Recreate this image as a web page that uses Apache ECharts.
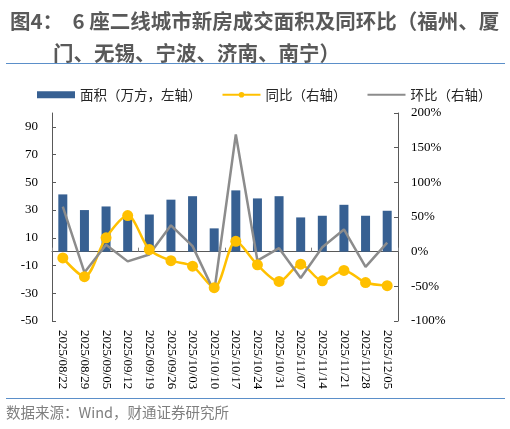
<!DOCTYPE html>
<html>
<head>
<meta charset="utf-8">
<script src="https://cdn.jsdelivr.net/npm/echarts@6/dist/echarts.min.js"></script>
<style>
  html, body { margin: 0; padding: 0; background: #fff; }
  #main { width: 510px; height: 429px; }
</style>
</head>
<body>
<div id="main"></div>
<script>
// 周度日期
var dates = ['2025/08/22', '2025/08/29', '2025/09/05', '2025/09/12', '2025/09/19', '2025/09/26',
  '2025/10/03', '2025/10/10', '2025/10/17', '2025/10/24', '2025/10/31', '2025/11/07',
  '2025/11/14', '2025/11/21', '2025/11/28', '2025/12/05']
// 面积（万方）
var area = [41.3, 30, 32.6, 25, 26.8, 37.5, 40, 16.8, 44.2, 38.4, 40, 24.7, 25.9, 33.8, 25.9, 29.5]
// 同比（%）
var yoy = [-9, -36, 20, 52, 3, -13, -21, -52, 15, -19, -43, -18, -42, -27, -44.5, -49]
// 环比（%）
var mom = [65, -30, 10, -14, -4, 38, 8, -58, 169, -13, 5, -38, 6.5, 32, -22, 13]

var myChart = echarts.init(document.getElementById('main'))
var serif = 'Liberation Serif'
var cjk = 'Noto Sans CJK SC'
var option = {
  animation: false,
  title: [
    {
      text: '图4：  6 座二线城市新房成交面积及同环比（福州、厦',
      left: 5,
      top: 6,
      textStyle: { fontFamily: cjk, fontSize: 20.5, fontWeight: 'bold', color: '#595959' }
    },
    {
      text: '门、无锡、宁波、济南、南宁）',
      left: 48,
      top: 38,
      textStyle: { fontFamily: cjk, fontSize: 20.5, fontWeight: 'bold', color: '#595959' }
    }
  ],
  graphic: [
    { type: 'line', shape: { x1: 6, y1: 63.5, x2: 505, y2: 63.5 }, style: { stroke: '#5b8fc9', lineWidth: 1.2 } },
    { type: 'line', shape: { x1: 6, y1: 398.5, x2: 505, y2: 398.5 }, style: { stroke: '#5b8fc9', lineWidth: 1.2 } },
    {
      type: 'text', left: 6, top: 405,
      style: { text: '数据来源：Wind，财通证券研究所', fontFamily: cjk, fontSize: 14.5, fill: '#7f7f7f' }
    }
  ],
  legend: {
    left: 32,
    top: 83,
    itemWidth: 38,
    itemHeight: 7,
    itemGap: 20,
    textStyle: { fontFamily: cjk, fontSize: 13.5, color: '#262626' },
    data: [
      { name: '面积（万方，左轴）', icon: 'rect' },
      { name: '同比（右轴）' },
      { name: '环比（右轴）', itemStyle: { opacity: 0 } }
    ]
  },
  grid: { left: 52, right: 112, top: 113, bottom: 108 },
  xAxis: [
    {
      type: 'category',
      data: dates,
      axisLine: { onZero: true, lineStyle: { color: '#595959', width: 1 } },
      axisTick: { show: true, inside: true, length: 4, lineStyle: { color: '#808080' } },
      axisLabel: { show: false }
    },
    {
      type: 'category',
      data: dates,
      position: 'bottom',
      axisLine: { show: false },
      axisTick: { show: false },
      axisLabel: {
        interval: 0, rotate: -90, margin: 9,
        fontFamily: serif, fontSize: 13, color: '#000'
      }
    }
  ],
  yAxis: [
    {
      type: 'value',
      min: -50, max: 100, interval: 20,
      splitLine: { show: false },
      axisLine: { show: true, lineStyle: { color: '#595959' } },
      axisTick: { show: true, inside: true, length: 4, lineStyle: { color: '#595959' } },
      axisLabel: { showMaxLabel: false, margin: 14, fontFamily: serif, fontSize: 13, color: '#000' }
    },
    {
      type: 'value',
      min: -100, max: 200, interval: 50,
      splitLine: { show: false },
      axisLine: { show: true, lineStyle: { color: '#595959' } },
      axisTick: { show: true, inside: true, length: 4, lineStyle: { color: '#595959' } },
      axisLabel: { margin: 13, fontFamily: serif, fontSize: 13, color: '#000', formatter: '{value}%' }
    }
  ],
  series: [
    {
      name: '面积（万方，左轴）',
      type: 'bar',
      xAxisIndex: 0,
      yAxisIndex: 0,
      barWidth: 9,
      itemStyle: { color: '#376092' },
      data: area
    },
    {
      name: '同比（右轴）',
      type: 'line',
      xAxisIndex: 0,
      yAxisIndex: 1,
      smooth: 0.3,
      symbol: 'circle',
      symbolSize: 11,
      itemStyle: { color: '#ffc000' },
      lineStyle: { color: '#ffc000', width: 2.5 },
      data: yoy
    },
    {
      name: '环比（右轴）',
      type: 'line',
      xAxisIndex: 0,
      yAxisIndex: 1,
      showSymbol: false,
      symbol: 'none',
      itemStyle: { color: '#8c8c8c' },
      lineStyle: { color: '#8c8c8c', width: 2.5 },
      data: mom
    }
  ]
}
option && myChart.setOption(option)
</script>
</body>
</html>
